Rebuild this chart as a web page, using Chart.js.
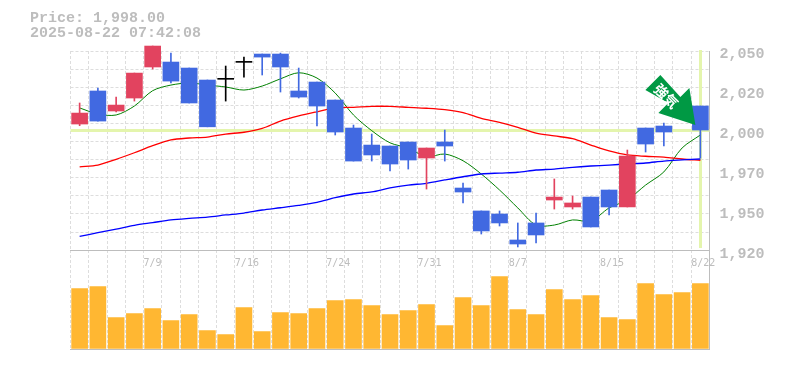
<!DOCTYPE html>
<html><head><meta charset="utf-8">
<style>
html,body{margin:0;padding:0;background:#fff;overflow:hidden}
canvas{position:absolute;left:0}
#a{top:0;z-index:2}
#b{top:250px;z-index:1}
</style>
<script src="https://cdn.jsdelivr.net/npm/chart.js@4"></script>
</head><body>
<canvas id="b" width="785" height="120"></canvas>
<canvas id="a" width="785" height="270"></canvas>
<script>
const headerLines = ["Price: 1,998.00", "2025-08-22 07:42:08"];
const arrowLabel = "強気";
const currentPrice = 1998;
const dates = ["7/3","7/4","7/7","7/8","7/9","7/10","7/11","7/14","7/15","7/16","7/17","7/18","7/22","7/23","7/24","7/25","7/28","7/29","7/30","7/31","8/1","8/4","8/5","8/6","8/7","8/8","8/12","8/13","8/14","8/15","8/18","8/19","8/20","8/21","8/22"];
const shownDates = ["7/9","7/16","7/24","7/31","8/7","8/15","8/22"];
const opens  = [2001.75,2022.4,2009.9,2018,2037.4,2040.5,2036.75,2029.25,2029.7,2040.3,2045.5,2045.5,2022.4,2028,2016.75,1999.25,1988.6,1988,1990.5,1980.5,1990.5,1961.75,1947.4,1945.5,1929.25,1939.9,1954.25,1949.9,1956.1,1960.5,1949.9,1999.25,2000.5,2016.75,2013];
const closes = [2008.6,2003.6,2013.6,2033.6,2050.5,2028.6,2014.9,2000,2029.7,2040.3,2043.6,2037.4,2018.6,2013,1996.75,1978.6,1982.4,1976.75,1979.25,1986.75,1988,1959.25,1934.9,1939.9,1926.75,1932.4,1956.1,1952.4,1937.4,1949.9,1981.75,1989.25,1996.75,2006.75,1998];
const highs  = [2014.9,2024.25,2018.6,2033.6,2050.5,2046.1,2036.75,2029.25,2038,2043.6,2045.5,2046.1,2036.75,2028,2016.75,2001.1,1995.5,1988,1990.5,1986.75,1998,1964.9,1947.4,1947.4,1939.9,1946.1,1967.4,1956.75,1956.1,1960.5,1985.5,1999.25,2002.4,2018,2013];
const lows   = [2000.7,2003.6,2009.25,2016.1,2036.1,2027.4,2014.9,2000,2016.1,2031.1,2032.4,2021.75,2018,2000.5,1994.9,1978.6,1978.6,1972.4,1973.6,1961.1,1978.6,1952.4,1933,1938,1924.9,1927.4,1948.6,1948.6,1937.4,1944.9,1949.9,1984.25,1988,2005.5,1980.5];
const ma5  = [2011.8,2008,2007.4,2013,2022.6,2026.1,2027.4,2026.1,2024.9,2023,2025.5,2030,2033.8,2030.5,2021.1,2007.4,1997.6,1990,1986.7,1981.3,1983,1978.8,1970.5,1960.5,1949.3,1938.6,1938.6,1941.8,1941.1,1949.3,1954.3,1963.6,1971.8,1986.8,1994.9];
const ma25 = [1975,1976.1,1979.7,1983.8,1988.2,1991.8,1993,1993.6,1995.5,1996.6,1999,2003.6,2006.8,2009.4,2011.8,2012.2,2012.8,2012.8,2012.2,2011.6,2010.7,2008.9,2005.3,2002.8,1999.7,1996.1,1994.3,1992.6,1988.6,1984.9,1982.4,1981.6,1981.1,1979.9,1979.1];
const ma75 = [1931.5,1933.8,1936,1938.4,1940.1,1941.8,1942.8,1943.6,1944.9,1946.1,1948,1949.4,1950.9,1952.8,1955.7,1958,1959.3,1961.8,1963.6,1964.7,1966.8,1968.8,1970.5,1971.1,1971.6,1973,1973.6,1974.7,1975.5,1976.1,1976.8,1977.4,1978.6,1979.3,1979.9];
const volumes = [60,62,31,35,40,28,34,18,14,41,17,36,35,40,48,49,43,34,38,44,23,51,43,72,39,34,59,49,53,31,29,65,54,56,65];
const priceAxisTicks = [2050,2025,2000,1975,1950,1925];
const priceAxisText = ["2,050","2,020","2,000","1,970","1,950","1,920"];
const gridPrices = [2047.4,2036.1,2024.75,2013.4,2002.1,1990.8,1979.5,1968.2,1956.9,1945.6,1934.25];

const UP = "#E2435F", DOWN = "#4169E1", DOJI = "#000000";
const candleColor = dates.map((_, i) => closes[i] === opens[i] ? DOJI : closes[i] > opens[i] ? UP : DOWN);
const grey = "#bdbdbd", gridC = "#dddddd", mono = "'Liberation Mono', monospace";
const fitW = w => s => { s.width = w; };
const fitH = h => s => { s.height = h; };

const overlay = {
  id: "overlay",
  beforeDatasetsDraw(c) {
    const {ctx, chartArea: a, scales: {x, y}} = c;
    const py = Math.round(y.getPixelForValue(currentPrice)) + 0.5;
    const px = Math.round(x.getPixelForValue(dates.length - 1));
    ctx.save();
    ctx.strokeStyle = "#E4F5AD"; ctx.lineWidth = 3;
    ctx.beginPath(); ctx.moveTo(a.left, py); ctx.lineTo(a.right, py); ctx.stroke();
    ctx.beginPath(); ctx.moveTo(px + .5, a.top - 1); ctx.lineTo(px + .5, a.bottom - 2); ctx.stroke();
    ctx.restore();
  },
  afterDraw(c) {
    const {ctx, scales: {x, y}} = c;
    ctx.save();
    ctx.fillStyle = grey; ctx.font = "bold 15px " + mono; ctx.textBaseline = "middle"; ctx.textAlign = "left";
    headerLines.forEach((t, i) => ctx.fillText(t, 30, 18 + i * 15));
    const tx = x.getPixelForValue(dates.length - 1) - 5;
    const ty = y.getPixelForValue(currentPrice) - 5;
    const shape = [[0,0],[-6,-37],[-15,-28],[-35,-50],[-50,-35],[-27,-22],[-37,-12]];
    ctx.fillStyle = "#009944";
    ctx.beginPath();
    shape.forEach(([dx, dy], i) => i ? ctx.lineTo(tx + dx, ty + dy) : ctx.moveTo(tx + dx, ty + dy));
    ctx.closePath(); ctx.fill();
    ctx.translate(tx - 29, ty - 29); ctx.rotate(Math.PI / 4);
    ctx.fillStyle = "#fff"; ctx.font = "bold 14px 'Noto Sans CJK JP'"; ctx.textAlign = "center";
    ctx.fillText(arrowLabel, 0, 0);
    ctx.restore();
  }
};

new Chart(document.getElementById("a"), {
  data: {
    labels: dates,
    datasets: [
      {type:"bar", data: dates.map((_, i) => [lows[i], highs[i]]), backgroundColor: candleColor, barThickness: 1, grouped: false, clip: false, order: 2},
      {type:"bar", data: dates.map((_, i) => [opens[i], closes[i]]), backgroundColor: candleColor, barThickness: 16, minBarLength: 1, grouped: false, clip: false, order: 1},
      {type:"line", data: ma5,  borderColor:"#008000", borderWidth:1, pointRadius:0, tension:0.3, order: 5},
      {type:"line", data: ma25, borderColor:"#ff0000", borderWidth:1.3, pointRadius:0, tension:0.3, order: 4},
      {type:"line", data: ma75, borderColor:"#0000ff", borderWidth:1.3, pointRadius:0, tension:0.3, order: 3}
    ]
  },
  options: {
    responsive:false, animation:false, events:[],
    layout:{padding:{left:70.5, top:51, right:0, bottom:0}},
    plugins:{legend:{display:false}, tooltip:{enabled:false}},
    scales:{
      x:{
        offset:true, afterFit: fitH(20),
        grid:{color:gridC, drawTicks:false, offset:true},
        border:{color:grey, dash:[3,2]},
        ticks:{autoSkip:false, maxRotation:0, minRotation:0, align:"start", labelOffset:-9.1, padding:7, color:grey, font:{family:"'DejaVu Sans Mono', monospace",size:10},
          callback(v){ const d = this.getLabelForValue(v); return shownDates.includes(d) ? d : ""; }}
      },
      y:{
        position:"right", min:1923, max:2047.4, afterFit: fitW(75.5),
        afterBuildTicks(s){ s.ticks = priceAxisTicks.map(value => ({value})); },
        grid:{display:false, drawTicks:false},
        border:{display:true, color:grey},
        ticks:{autoSkip:false, labelOffset:7, padding:10, color:grey, font:{family:mono,size:15,weight:"bold"},
          callback(v){ return priceAxisText[priceAxisTicks.indexOf(v)]; }}
      },
      yGrid:{
        position:"right", min:1923, max:2047.4, afterFit: fitW(0),
        afterBuildTicks(s){ s.ticks = gridPrices.map(value => ({value})); },
        grid:{color:gridC, drawTicks:false},
        border:{display:false, dash:[3,2]},
        ticks:{display:false}
      }
    }
  },
  plugins:[overlay]
});

new Chart(document.getElementById("b"), {
  type:"bar",
  data:{labels:dates, datasets:[{data:volumes, backgroundColor:"#FFB732", barThickness:16}]},
  options:{
    responsive:false, animation:false, events:[],
    layout:{padding:{left:70.5, top:0, right:0, bottom:0}},
    plugins:{legend:{display:false}, tooltip:{enabled:false}},
    scales:{
      x:{
        afterFit: fitH(20.5),
        grid:{color:gridC, drawTicks:false, offset:true},
        border:{color:grey, dash:[3,2]},
        ticks:{display:false}
      },
      y:{
        position:"right", min:-1, max:98.5, afterFit: fitW(75.5),
        grid:{display:false, drawTicks:false},
        border:{display:true, color:grey},
        ticks:{display:false}
      }
    }
  }
});
</script>
</body></html>
